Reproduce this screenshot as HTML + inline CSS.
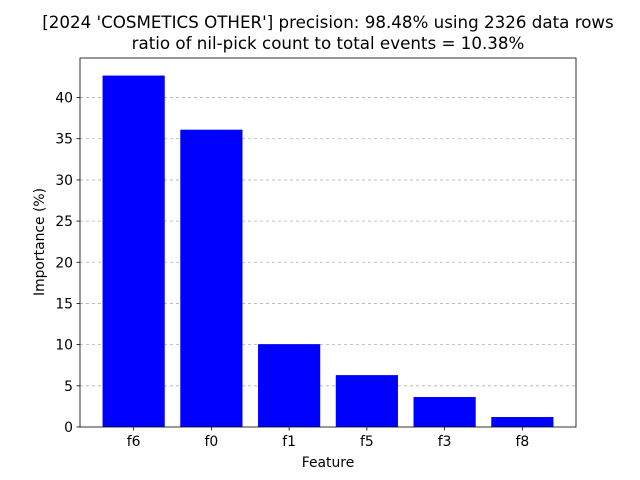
<!DOCTYPE html>
<html><head><meta charset="utf-8"><style>
body{margin:0;background:#fff;}
svg{display:block;font-family:"DejaVu Sans","Liberation Sans",sans-serif;}
</style></head><body>
<svg id="chart" width="640" height="480" viewBox="0 0 640 480">
<rect width="640" height="480" fill="#fff"/>
<text x="328" y="28" font-size="16.7" text-anchor="middle">[2024 'COSMETICS OTHER'] precision: 98.48% using 2326 data rows</text>
<text x="328" y="49" font-size="16.7" text-anchor="middle">ratio of nil-pick count to total events = 10.38%</text>
<g id="grid"></g>
<g id="bars"></g>
<g id="axes"></g>
<text x="328" y="467" font-size="13.9" text-anchor="middle">Feature</text>
<text transform="translate(44,242) rotate(-90)" font-size="13.9" text-anchor="middle">Importance (%)</text>
</svg>
<script>
const categories = ["f6","f0","f1","f5","f3","f8"];
const values = [42.67, 36.1, 10.06, 6.3, 3.64, 1.21];
const yTicks = [0,5,10,15,20,25,30,35,40];

const L=80,R=576,T=58,B=427;
const ymax=Math.max(...values)*1.05;
const xmin=-0.4-0.05*(categories.length-1+0.8), xmax=categories.length-1+0.4+0.05*(categories.length-1+0.8);
const xs=v=>L+(v-xmin)/(xmax-xmin)*(R-L);
const ys=v=>B-v/ymax*(B-T);
const NS="http://www.w3.org/2000/svg";
function mk(tag,attrs,parent){const e=document.createElementNS(NS,tag);for(const k in attrs)e.setAttribute(k,attrs[k]);parent.appendChild(e);return e;}
const grid=document.getElementById('grid'),bars=document.getElementById('bars'),axes=document.getElementById('axes');
yTicks.forEach(t=>{
  const y=ys(t);
  if(t>0){const g=mk('line',{x1:L,x2:R,y1:y,y2:y,stroke:'#b0b0b0','stroke-width':0.8,'stroke-dasharray':'3,3'},grid);
  
  }
  mk('line',{x1:L-3.5,x2:L,y1:y,y2:y,stroke:'#000','stroke-width':0.8},axes);
  const tx=mk('text',{x:L-7,y:y+5,'font-size':13.9,'text-anchor':'end'},axes);
  tx.textContent=t;
  
  
});
categories.forEach((c,i)=>{
  const x0=xs(i-0.4),x1=xs(i+0.4);
  const r=mk('rect',{x:x0,y:ys(values[i]),width:x1-x0,height:B-ys(values[i]),fill:'#0000ff'},bars);
  
  
  const cx=xs(i);
  mk('line',{x1:cx,x2:cx,y1:B,y2:B+3.5,stroke:'#000','stroke-width':0.8},axes);
  const tx=mk('text',{x:cx,y:B+19,'font-size':13.9,'text-anchor':'middle'},axes);
  tx.textContent=c;
  
  
});
const fr=mk('rect',{x:L,y:T,width:R-L,height:B-T,fill:'none',stroke:'#000','stroke-width':0.8},axes);


</script>
</body></html>
